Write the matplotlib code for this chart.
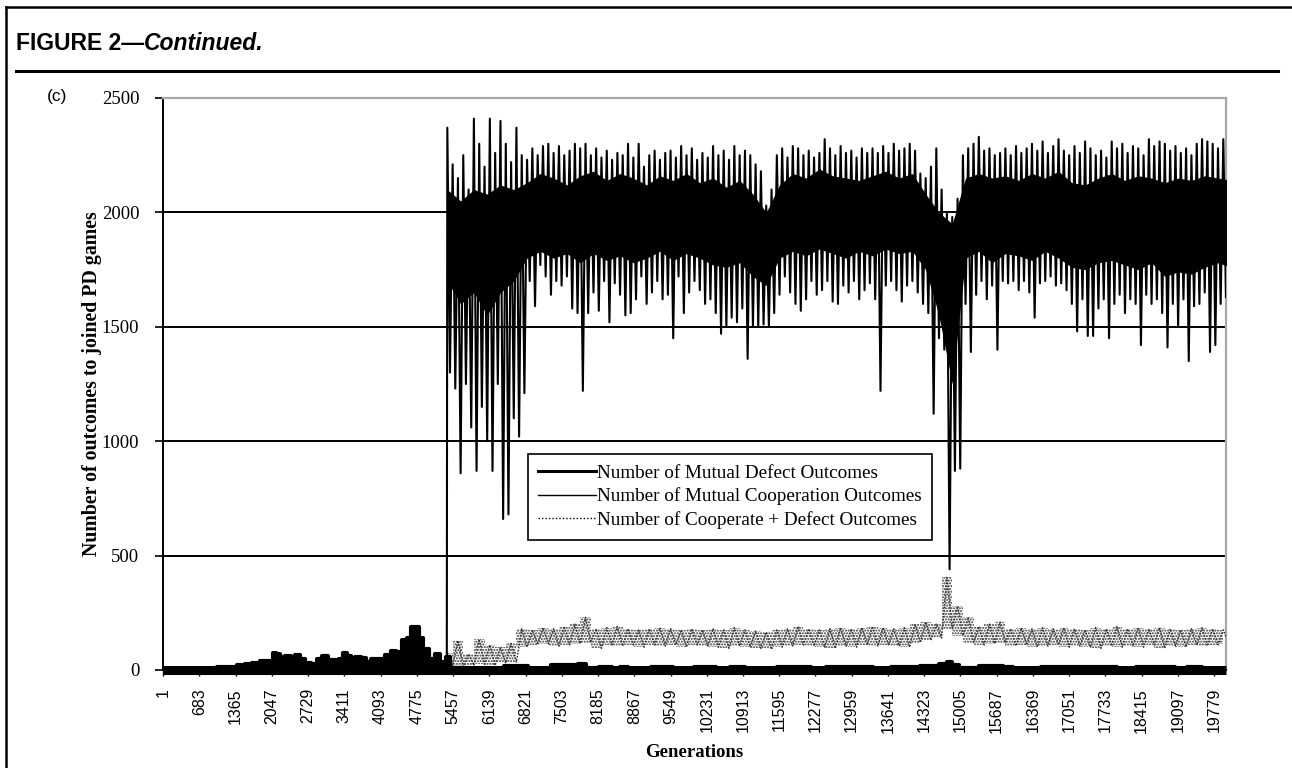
import numpy as np
import matplotlib
matplotlib.use("Agg")
import matplotlib.pyplot as plt
from matplotlib.lines import Line2D

# ---- data ----
n_gen = 20000
tick_labels = list(range(1, 20000, 682))          # 1, 683, ..., 19779

# Mutual cooperation: zero until ~5340, then hi / lo reading per 100-generation block
coop_start = 5350
coop_block = 100
coop_hi = [2370, 2210, 2150, 2250, 2100, 2410, 2300, 2200, 2410, 2260, 2400, 2300, 2220, 2370, 2250,
           2230, 2280, 2250, 2290, 2300, 2260, 2290, 2250, 2270, 2300, 2280,
           2300, 2250, 2280, 2240, 2270, 2230, 2260, 2250, 2300, 2240, 2300, 2200, 2250, 2270, 2230,
           2260, 2270, 2240, 2290, 2250, 2280, 2230, 2260, 2240, 2290, 2250, 2270, 2230, 2290, 2250,
           2270, 2250, 2210, 2180, 2030, 2100,
           2250, 2280, 2240, 2290, 2280, 2250, 2270, 2240, 2260, 2320, 2280, 2250, 2290, 2260, 2270,
           2240, 2280, 2260, 2280, 2260,
           2290, 2260, 2300, 2270, 2280, 2300, 2270, 2170, 2150, 2200, 2280, 2100, 2000, 1980, 2060,
           2250, 2280, 2300, 2330, 2270, 2280, 2250,
           2260, 2280, 2250, 2290, 2260, 2280, 2300, 2270, 2310, 2260, 2290, 2320, 2270, 2250, 2290,
           2260, 2310, 2280, 2250, 2270, 2240, 2310, 2280, 2300, 2260, 2290, 2280, 2250, 2320, 2290,
           2310, 2300, 2270, 2290, 2260, 2280, 2250, 2300, 2320, 2310, 2300, 2280, 2320]
coop_lo = [1300, 1230, 860, 1250, 1060, 870, 1150, 1000, 870, 1250, 660, 680, 1100, 1020, 1210,
           1700, 1590, 1770, 1720, 1640, 1700, 1680, 1720, 1580, 1560, 1220,
           1560, 1650, 1570, 1700, 1520, 1690, 1640, 1550, 1560, 1620, 1720, 1600, 1650, 1700, 1620,
           1640, 1450, 1720, 1560, 1650, 1700, 1660, 1600, 1620, 1560, 1470, 1500, 1540, 1520, 1580,
           1360, 1500, 1500, 1510, 1500, 1560,
           1640, 1720, 1650, 1600, 1570, 1620, 1700, 1640, 1660, 1700, 1610, 1600, 1680, 1650, 1700,
           1620, 1660, 1690, 1620, 1220,
           1680, 1700, 1660, 1610, 1680, 1700, 1650, 1600, 1560, 1120, 1450, 1400, 440, 870, 880,
           1600, 1390, 1640, 1700, 1620, 1680, 1400,
           1700, 1690, 1700, 1660, 1700, 1650, 1540, 1690, 1700, 1720, 1680, 1690, 1660, 1600, 1480,
           1620, 1460, 1460, 1580, 1620, 1450, 1600, 1640, 1560, 1620, 1600, 1420, 1640, 1600, 1620,
           1560, 1410, 1600, 1500, 1620, 1350, 1590, 1600, 1650, 1390, 1420, 1600, 1630]

# solid (over-plotted) body of the cooperation series, one reading per 250 generations
core_start = 5350
core_step = 250
core_lo = [1700, 1600, 1650, 1550, 1650, 1700, 1800, 1830, 1800, 1820, 1780, 1820, 1790, 1810,
           1780, 1800, 1830, 1790, 1820, 1800, 1770, 1760, 1780, 1720, 1680, 1800, 1830, 1810,
           1840, 1820, 1800, 1830, 1810, 1840, 1820, 1830, 1750, 1550, 1250, 1800, 1830, 1780,
           1820, 1810, 1790, 1830, 1800, 1760, 1750, 1780, 1790, 1770, 1750, 1780, 1720, 1740,
           1730, 1760, 1780, 1760]
core_hi = [2100, 2050, 2100, 2080, 2120, 2100, 2130, 2170, 2150, 2120, 2160, 2180, 2140, 2170,
           2150, 2120, 2160, 2140, 2170, 2130, 2150, 2110, 2140, 2080, 2000, 2120, 2170, 2150,
           2190, 2160, 2150, 2140, 2160, 2180, 2150, 2170, 2080, 2000, 1950, 2150, 2170, 2150,
           2160, 2140, 2170, 2150, 2180, 2130, 2120, 2150, 2170, 2140, 2160, 2150, 2130, 2150,
           2140, 2160, 2150, 2140]

# Cooperate + defect: hi / lo reading per 200-generation block
cd_start = 5350
cd_block = 200
cd_hi = [75, 128, 70, 135, 110, 100, 116, 180,
         175, 185, 180, 190, 200, 230, 180, 185, 190, 180, 175, 180, 185, 180, 175, 180, 175, 180,
         175, 185, 175, 170, 165, 175, 180, 190, 180, 175, 180, 185, 180, 185, 190, 185, 180, 185,
         200, 210, 200, 405, 280, 230, 190, 200, 210, 180, 185, 180, 185, 180, 185, 180, 175, 185,
         180, 190, 180, 185, 180, 185, 180, 175, 180, 185, 180, 175]
cd_lo = [20, 15, 20, 25, 20, 30, 35, 100,
         110, 115, 105, 110, 115, 120, 95, 110, 105, 110, 100, 110, 105, 110, 100, 110, 105, 100,
         95, 105, 100, 95, 90, 100, 105, 110, 105, 100, 95, 105, 100, 110, 105, 110, 105, 100,
         120, 130, 140, 180, 150, 120, 110, 115, 120, 105, 110, 100, 105, 110, 100, 105, 100, 95,
         105, 100, 105, 100, 110, 95, 105, 100, 110, 105, 110, 115]

# Mutual defect
defect_gen = [1, 1000, 1050, 1300, 1480, 1600, 1760, 1900, 2040, 2100, 2170, 2250, 2350, 2450, 2520,
              2620, 2730, 2850, 2940, 3050, 3150, 3250, 3360, 3430, 3500, 3570, 3670, 3780, 3850,
              3990, 4130, 4230, 4340, 4440, 4540, 4640, 4710, 4780, 4850, 4950, 5060, 5160, 5270,
              5370, 5440, 6000, 6820, 6900, 7700, 7900, 8000, 8400, 8500, 8700, 8800, 9550, 9650,
              10350, 10450, 10900, 11000, 12100, 12300, 12650, 13300, 13400, 14000, 14500, 14700,
              14790, 14900, 15050, 15650, 15950, 16050, 17000, 17900, 18000, 18600, 19000, 19100,
              19450, 19650, 20000]
defect_val = [3, 3, 12, 15, 20, 25, 30, 40, 38, 75, 70, 55, 62, 45, 65,
              50, 30, 28, 50, 60, 45, 42, 50, 75, 60, 50, 55, 52, 36,
              50, 46, 65, 85, 80, 130, 140, 190, 188, 140, 90, 50, 70, 35,
              55, 10, 5, 18, 6, 20, 25, 8, 15, 6, 15, 6, 14, 5,
              12, 5, 12, 5, 14, 5, 15, 14, 5, 12, 16, 25,
              35, 20, 8, 18, 15, 5, 12, 14, 5, 14, 12, 5,
              14, 5, 5]

# ---- build zigzag series from block readings ----
gb = coop_start + coop_block * np.arange(len(coop_hi))
coop_x = np.concatenate([[1, coop_start - 10], np.column_stack([gb, gb + coop_block / 2]).ravel()])
coop_y = np.concatenate([[0, 0], np.column_stack([coop_hi, coop_lo]).ravel()])
core_x = core_start + core_step * np.arange(len(core_lo))

gc = cd_start + cd_block * np.arange(len(cd_hi))
cd_x = np.column_stack([gc, gc + cd_block / 2]).ravel()
cd_y = np.column_stack([cd_hi, cd_lo]).ravel()

serif = "Liberation Serif"
sans = "Liberation Sans"

fig = plt.figure(figsize=(12.92, 7.68), dpi=100)

# outer frame + header
fig.add_artist(Line2D([6 / 1292, 6 / 1292], [0, 1 - 7 / 768], color="black", lw=1.8))
fig.add_artist(Line2D([6 / 1292, 1], [1 - 7 / 768, 1 - 7 / 768], color="black", lw=1.8))
fig.add_artist(Line2D([16 / 1292, 1278 / 1292], [1 - 71 / 768, 1 - 71 / 768], color="black", lw=2.2))
t1 = fig.text(16 / 1292, 1 - 55 / 768, "FIGURE 2\u2014", family=sans, weight="bold", fontsize=16.5,
              va="bottom")
fig.add_artist(plt.Annotation("Continued.", xy=(1, 0), xycoords=t1, va="bottom", ha="left",
                              family=sans, weight="bold", style="italic", fontsize=16.5))
fig.text(47 / 1292, 1 - 97 / 768, "(c)", family=sans, fontsize=12.5, va="center")

ax = fig.add_axes([163 / 1292, 98 / 768, 1063 / 1292, 572 / 768])

# cooperate + defect: dotted stipple band
ax.fill_between(gc, cd_lo, cd_hi, step="mid", facecolor="none", edgecolor="#333333",
                hatch="......", linewidth=0, zorder=2)
ax.plot(cd_x, cd_y, color="#333333", lw=1.1, linestyle=(0, (1, 1)), zorder=3)

# mutual defect: thick, rapidly oscillating line -> solid silhouette
ax.fill_between(defect_gen, 0, defect_val, step="mid", color="black", lw=0, zorder=4)
ax.plot(defect_gen, defect_val, color="black", lw=3, drawstyle="steps-mid", zorder=4)
ax.plot([0.5, n_gen + 0.5], [0, 0], color="black", lw=6.5, solid_capstyle="butt",
        clip_on=False, zorder=4)

# mutual cooperation
ax.fill_between(core_x, core_lo, core_hi, color="black", lw=0, zorder=5)
ax.plot(coop_x, coop_y, color="black", lw=1.5, zorder=5)

ax.set_xlim(0.5, n_gen + 0.5)
ax.set_ylim(0, 2500)
ax.set_yticks([0, 500, 1000, 1500, 2000, 2500])
ax.set_xticks(tick_labels)
ax.set_xticklabels([str(t) for t in tick_labels], rotation=90, family=sans, fontsize=11.5)
for lab in ax.get_yticklabels():
    lab.set_family(serif)
    lab.set_fontsize(13.5)
ax.tick_params(axis="y", length=6, width=1.2, pad=11)
ax.tick_params(axis="x", length=4, width=1, pad=9)

for y in [500, 1000, 1500, 2000]:
    ax.axhline(y, color="black", lw=1.4, zorder=1)

for s in ["left", "bottom"]:
    ax.spines[s].set_color("black")
    ax.spines[s].set_linewidth(1.4)
for s in ["top", "right"]:
    ax.spines[s].set_color("#a8a8a8")
    ax.spines[s].set_linewidth(1.6)

ax.set_ylabel("Number of outcomes to joined PD games", family=serif, weight="bold",
              fontsize=14.3, va="center")
ax.yaxis.set_label_coords(-0.0668, 0.5)
ax.set_xlabel("Generations", family=serif, weight="bold", fontsize=13.5, labelpad=8)

handles = [Line2D([], [], color="black", lw=2.2),
           Line2D([], [], color="black", lw=1.0),
           Line2D([], [], color="black", lw=1.0, linestyle=(0, (1, 1.5)))]
labels = ["Number of Mutual Defect Outcomes",
          "Number of Mutual Cooperation Outcomes",
          "Number of Cooperate + Defect Outcomes"]
leg = ax.legend(handles, labels, loc="upper left", bbox_to_anchor=(0.343, 0.378),
                prop={"family": serif, "size": 13.8}, handlelength=3.0, handletextpad=0.05,
                borderpad=0.55, labelspacing=0.3, fancybox=False, framealpha=1,
                edgecolor="black", borderaxespad=0)
leg.get_frame().set_linewidth(1.2)
leg.set_zorder(10)

fig.savefig("out.png", dpi=100)
